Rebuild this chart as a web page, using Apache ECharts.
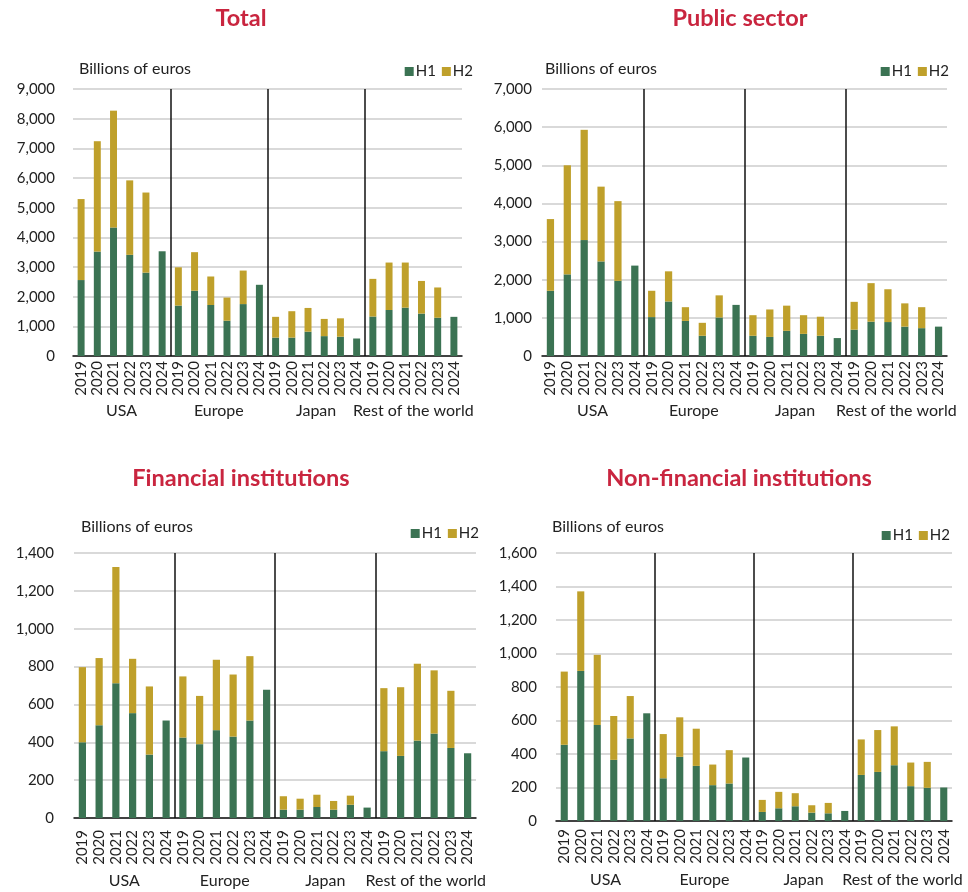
<!DOCTYPE html>
<html>
<head>
<meta charset="utf-8">
<script src="https://cdn.jsdelivr.net/npm/echarts@6/dist/echarts.min.js"></script>
<style>
html,body{margin:0;padding:0;background:#fff;}
#chart{width:968px;height:892px;}
</style>
</head>
<body>
<div id="chart"></div>
<script>
// ---- data ----
const years = ['2019','2020','2021','2022','2023','2024'];
const regions = ['USA','Europe','Japan','Rest of the world'];
const panelTitles = ['Total','Public sector','Financial institutions','Non-financial institutions'];
// region boundaries (in number of year-categories) where separator lines sit
const separators = [6, 12, 18];

// Total
const totalH1 = [2560,3520,4330,3410,2810,3530, 1700,2200,1720,1190,1750,2400, 620,620,820,670,650,590, 1330,1550,1630,1430,1290,1320];
const totalH2 = [2730,3720,3940,2510,2700,null, 1290,1300,960,780,1130,null, 700,890,800,580,620,null, 1270,1600,1520,1100,1020,null];
// Public sector
const publicH1 = [1710,2140,3040,2480,1970,2370, 1020,1430,920,530,1010,1340, 530,500,660,580,530,470, 690,900,890,770,730,770];
const publicH2 = [1880,2860,2890,1960,2090,null, 690,790,360,340,580,null, 540,720,660,490,500,null, 730,1010,860,610,550,null];
// Financial institutions
const finH1 = [400,490,712,554,335,515, 425,390,464,430,515,677, 44,44,58,44,70,55, 353,328,409,446,370,342];
const finH2 = [397,355,614,287,360,null, 323,255,372,328,340,null, 71,58,65,46,48,null, 333,363,406,334,302,null];
// Non-financial institutions
const nonfinH1 = [455,896,573,365,493,643, 255,383,329,214,224,379, 54,76,88,50,46,60, 275,293,333,208,198,200];
const nonfinH2 = [437,475,419,262,253,null, 264,236,222,123,199,null, 72,98,78,44,62,null, 212,250,232,141,155,null];

const yMax = [9000, 7000, 1400, 1600];
const yStep = [1000, 1000, 200, 200];
const H1s = [totalH1, publicH1, finH1, nonfinH1];
const H2s = [totalH2, publicH2, finH2, nonfinH2];

// ---- layout / style ----
const FONT = 'Lato';
const GREEN = '#3b7353';
const GOLD = '#bfa02b';
const TITLE_COLOR = '#c9253f';
const grids = [
  {left: 73, top: 89, width: 389, height: 267},
  {left: 542, top: 89, width: 405, height: 267},
  {left: 74, top: 553, width: 402, height: 265},
  {left: 556, top: 553, width: 396, height: 268}
];
const yLabelMargin = [18, 10, 20, 19];
const yearMargin = [5, 5, 12, 8];
const regionMargin = [47, 47, 55, 51];
const titlePos = [
  {x: 241, y: 6}, {x: 740, y: 6}, {x: 241, y: 466}, {x: 739, y: 466}
];
const unitPos = [
  {x: 79, y: 61}, {x: 545, y: 61}, {x: 81, y: 519}, {x: 552, y: 519}
];
const legendRight = [495, 19, 489, 18];
const legendTop = [64, 64, 526, 528];

const nCat = years.length * regions.length;
const categories = [];
regions.forEach(() => years.forEach(y => categories.push(y)));

const fmt = v => v.toLocaleString('en-US');

const option = {
  backgroundColor: '#fff',
  animation: false,
  textStyle: {fontFamily: FONT},
  title: [],
  legend: [],
  grid: grids.map(g => Object.assign({containLabel: false}, g)),
  xAxis: [],
  yAxis: [],
  series: []
};

for (let p = 0; p < 4; p++) {
  option.title.push({
    text: panelTitles[p], left: titlePos[p].x, top: titlePos[p].y, textAlign: 'center', padding: 0,
    textStyle: {fontFamily: FONT, fontWeight: 'bold', fontSize: 23.5, color: TITLE_COLOR}
  });
  option.title.push({
    text: 'Billions of euros', left: unitPos[p].x, top: unitPos[p].y, padding: 0,
    textStyle: {fontFamily: FONT, fontWeight: 'normal', fontSize: 16, color: '#222'}
  });
  option.legend.push({
    data: ['H1','H2'], right: legendRight[p], top: legendTop[p],
    icon: 'rect', itemWidth: 9, itemHeight: 9, itemGap: 6, padding: 0,
    textStyle: {fontFamily: FONT, fontSize: 15, color: '#222', padding: [0,0,0,-3]}
  });
  // year axis
  option.xAxis.push({
    type: 'category', gridIndex: p, data: categories,
    axisLine: {show: true, lineStyle: {color: '#111', width: 1.5}},
    axisTick: {show: false},
    axisLabel: {rotate: 90, fontFamily: FONT, fontSize: 15, color: '#222', margin: yearMargin[p], interval: 0},
    splitLine: {show: false}
  });
  // region axis
  option.xAxis.push({
    type: 'category', gridIndex: p, data: regions, position: 'bottom',
    axisLine: {show: false}, axisTick: {show: false}, splitLine: {show: false},
    axisLabel: {fontFamily: FONT, fontSize: 16, color: '#222', margin: regionMargin[p], interval: 0}
  });
  // hidden value axis spanning the category bands, used for separator lines
  option.xAxis.push({
    type: 'value', gridIndex: p, min: 0, max: nCat, show: false
  });
  option.yAxis.push({
    type: 'value', gridIndex: p, min: 0, max: yMax[p], interval: yStep[p],
    axisLine: {show: false}, axisTick: {show: false},
    axisLabel: {fontFamily: FONT, fontSize: 15, color: '#222', margin: yLabelMargin[p], formatter: fmt},
    splitLine: {show: true, lineStyle: {color: '#cdcdcd', width: 1.5}}
  });
  option.series.push({
    name: 'H1', type: 'bar', stack: 's' + p, xAxisIndex: p * 3, yAxisIndex: p,
    data: H1s[p], barWidth: '43%', itemStyle: {color: GREEN}
  });
  option.series.push({
    name: 'H2', type: 'bar', stack: 's' + p, xAxisIndex: p * 3, yAxisIndex: p,
    data: H2s[p], barWidth: '43%', itemStyle: {color: GOLD}
  });
  option.series.push({
    name: 'sep' + p, type: 'scatter', xAxisIndex: p * 3 + 2, yAxisIndex: p,
    data: separators.map(s => [s, 0]), symbolSize: 0, silent: true,
    markLine: {
      silent: true, symbol: 'none', label: {show: false},
      lineStyle: {color: '#111', width: 1.5, type: 'solid'},
      data: separators.map(s => ({xAxis: s}))
    }
  });
}

const chart = echarts.init(document.getElementById('chart'), null, {renderer: 'canvas'});
chart.setOption(option);
</script>
</body>
</html>
